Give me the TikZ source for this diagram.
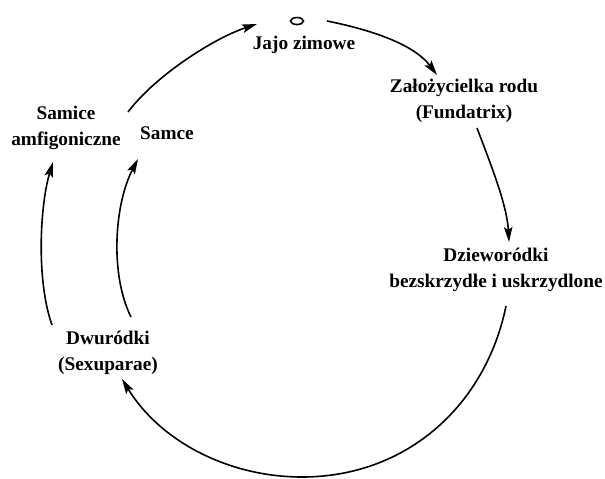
\documentclass[tikz,border=0pt]{standalone}
\usepackage{fontspec}
\setmainfont{Liberation Serif}
\usetikzlibrary{arrows.meta,shapes.geometric}
\begin{document}
\begin{tikzpicture}[x=1pt,y=-1pt,
  lbl/.style={font=\fontsize{19.3}{25.5}\selectfont\bfseries, align=center, inner sep=0pt},
  cyc/.style={line width=1.6pt, -{Stealth[length=15pt,width=8.5pt,inset=3pt]}}]
\useasboundingbox (0,0) rectangle (605,479);
% egg
\node[draw, line width=1.6pt, ellipse, minimum width=13pt, minimum height=7pt, inner sep=0pt] (egg) at (297,21) {};
% labels
\node[lbl] (jajo) at (304,45) {Jajo zimowe};
\node[lbl] (fund) at (464,101) {Założycielka rodu\\(Fundatrix)};
\node[lbl] (dziew) at (496,270) {Dzieworódki\\bezskrzydłe i uskrzydlone};
\node[lbl] (dwu) at (108,353) {Dwuródki\\(Sexuparae)};
\node[lbl] (samice) at (66,128) {Samice\\amfigoniczne};
\node[lbl] (samce) at (167,133) {Samce};
% connector endpoints
\coordinate (a1s) at (128,112);
\coordinate (a1e) at (257,24);
\coordinate (a2s) at (327,21);
\coordinate (a2e) at (437,75);
\coordinate (a3s) at (477,128);
\coordinate (a3e) at (509,242);
\coordinate (a4s) at (506,306);
\coordinate (a4b) at (302,477);
\coordinate (a4e) at (122,379);
\coordinate (a5s) at (52,325);
\coordinate (a5e) at (53,162);
\coordinate (a6s) at (131,317);
\coordinate (a6e) at (138,159);
% connectors
\draw[cyc] (a1s) .. controls (155,76) and (214,38) .. (a1e);
\draw[cyc] (a2s) .. controls (367,29) and (413,43) .. (a2e);
\draw[cyc] (a3s) .. controls (491,165) and (507,205) .. (a3e);
\draw[cyc] (a4s) .. controls (486,404) and (408,477) .. (a4b)
              .. controls (228,477) and (160,441) .. (a4e);
\draw[cyc] (a5s) .. controls (36,280) and (40,205) .. (a5e);
\draw[cyc] (a6s) .. controls (110,275) and (114,205) .. (a6e);
\end{tikzpicture}
\end{document}
